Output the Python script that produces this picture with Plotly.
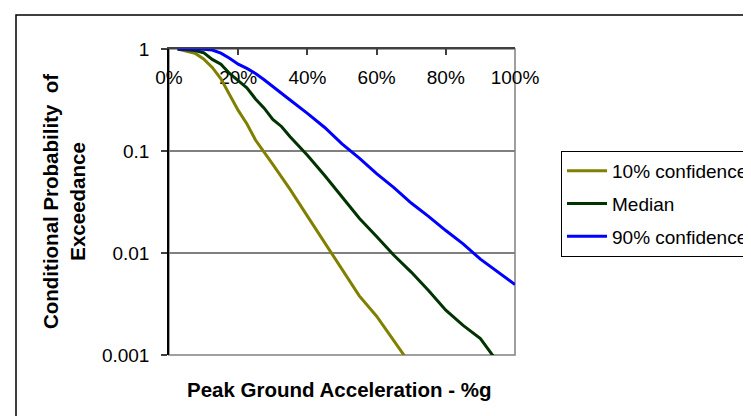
import plotly.graph_objects as go

# Peak ground acceleration (fraction of g)
pga_10 = [0.025, 0.05, 0.075, 0.10, 0.125, 0.15, 0.175, 0.20, 0.225, 0.25, 0.30, 0.35,
          0.40, 0.45, 0.50, 0.55, 0.60, 0.65, 0.70]
p_10 = [1.0, 0.955, 0.91, 0.80, 0.66, 0.51, 0.36, 0.25, 0.185, 0.128, 0.074, 0.042,
        0.023, 0.0126, 0.0069, 0.0038, 0.0024, 0.0014, 0.00079]

pga_med = [0.025, 0.05, 0.075, 0.10, 0.125, 0.15, 0.175, 0.20, 0.225, 0.25, 0.275, 0.30,
           0.325, 0.35, 0.40, 0.45, 0.50, 0.55, 0.60, 0.65, 0.70, 0.75, 0.80, 0.85, 0.90, 0.95]
p_med = [1.0, 0.99, 0.965, 0.92, 0.79, 0.71, 0.575, 0.49, 0.417, 0.324, 0.263, 0.204,
         0.174, 0.138, 0.091, 0.0575, 0.0355, 0.0219, 0.0145, 0.0095, 0.0065, 0.0043,
         0.00275, 0.00195, 0.00145, 0.00085]

pga_90 = [0.025, 0.05, 0.075, 0.10, 0.125, 0.15, 0.175, 0.20, 0.225, 0.25, 0.275, 0.30,
          0.35, 0.40, 0.45, 0.50, 0.55, 0.60, 0.65, 0.70, 0.75, 0.80, 0.85, 0.90, 0.95, 1.00]
p_90 = [1.0, 1.0, 1.0, 0.995, 0.977, 0.91, 0.81, 0.71, 0.645, 0.575, 0.50, 0.427,
        0.316, 0.234, 0.17, 0.1175, 0.085, 0.060, 0.0437, 0.0309, 0.0229, 0.0166,
        0.0123, 0.0087, 0.0065, 0.0049]

series_names = ["10% confidence", "Median", "90% confidence"]
x_ticks = [0, 0.2, 0.4, 0.6, 0.8, 1.0]
x_tick_text = ["0%", "20%", "40%", "60%", "80%", "100%"]
y_ticks = [0.001, 0.01, 0.1, 1]
y_tick_text = ["0.001", "0.01", "0.1", "1"]

FONT = "Arial, Liberation Sans, sans-serif"

fig = go.Figure()
for name, xs, ys, col, grp, xa in [
    (series_names[0], pga_10, p_10, "#808000", "a", "x"),
    (series_names[1], pga_med, p_med, "#003300", "b", "x"),
    (series_names[2], pga_90, p_90, "#0000FF", "c", "x2"),
]:
    fig.add_trace(go.Scatter(x=xs, y=ys, mode="lines", name=name, legendgroup=grp,
                             xaxis=xa, yaxis="y",
                             line=dict(color=col, width=3)))

W, H = 751, 416
L, R, T, B = 161, 244, 41, 69
PW, PH = W - L - R, H - T - B

fig.update_layout(
    width=W, height=H,
    margin=dict(l=L, r=R, t=T, b=B, autoexpand=False),
    paper_bgcolor="white", plot_bgcolor="white",
    font=dict(family=FONT, size=19, color="black"),
    showlegend=True,
    legend=dict(
        x=(553 - L) / PW, xanchor="left",
        y=(H - B - 143) / PH, yanchor="top",
        bgcolor="white", bordercolor="black", borderwidth=1,
        font=dict(family=FONT, size=19, color="black"),
        traceorder="grouped", tracegroupgap=5, itemwidth=40,
    ),
    xaxis=dict(
        range=[0, 1], side="top", tickvals=x_ticks, showticklabels=False,
        ticks="inside", ticklen=6, tickcolor="#404040", tickwidth=1.5,
        showline=True, linecolor="#404040", linewidth=1.5,
        showgrid=False, zeroline=False, layer="below traces",
    ),
    xaxis2=dict(
        range=[0, 1], matches="x", overlaying="x", anchor="free", position=1,
        side="bottom", tickvals=x_ticks, ticktext=x_tick_text,
        ticks="", ticklabelstandoff=15, showline=False, showgrid=False,
        zeroline=False, layer="below traces",
        tickfont=dict(family=FONT, size=19, color="black"),
    ),
    yaxis=dict(
        type="log", range=[-3, 0], tickvals=y_ticks, ticktext=y_tick_text,
        ticks="outside", ticklen=6, tickcolor="#404040", tickwidth=1.5,
        ticklabelstandoff=8,
        showline=True, linecolor="black", linewidth=1.5,
        showgrid=True, gridcolor="#808080", gridwidth=1.5,
        zeroline=False, layer="below traces",
        tickfont=dict(family=FONT, size=19, color="black"),
    ),
    shapes=[
        dict(type="rect", xref="x domain", yref="y domain", x0=0, x1=1, y0=0, y1=1,
             line=dict(color="#808080", width=1.5), layer="below"),
        dict(type="rect", xref="paper", yref="paper",
             x0=(8 - L) / PW, x1=2.0,
             y0=-1.0, y1=(H - B - 7) / PH,
             line=dict(color="black", width=1.5), layer="below"),
    ],
    annotations=[
        dict(text="<b>Conditional Probability  of<br>Exceedance</b>", textangle=-90,
             xref="paper", yref="paper", x=(56 - L) / PW, y=0.5,
             xanchor="center", yanchor="middle", showarrow=False,
             font=dict(family=FONT, size=20.5, color="black")),
        dict(text="<b>Peak Ground Acceleration - %g</b>",
             xref="paper", yref="paper", x=(331 - L) / PW,
             y=-(381 - (H - B)) / PH,
             xanchor="center", yanchor="middle", showarrow=False,
             font=dict(family=FONT, size=20.5, color="black")),
    ],
)

fig.write_html("out.html")
